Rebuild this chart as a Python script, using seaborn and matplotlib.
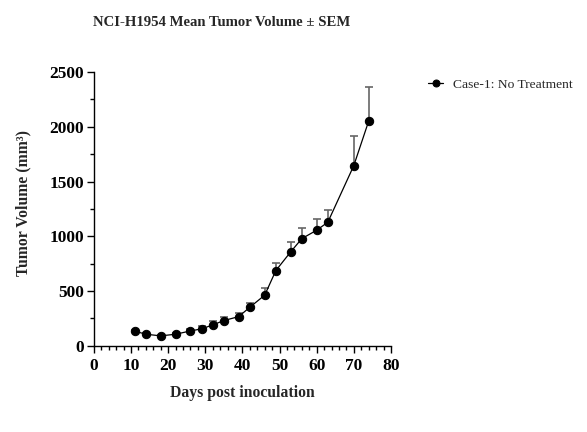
import matplotlib
matplotlib.use("Agg")
import matplotlib.pyplot as plt
import seaborn as sns
import pandas as pd
from matplotlib.ticker import MultipleLocator

days = [11, 14, 18, 22, 26, 29, 32, 35, 39, 42, 46, 49, 53, 56, 60, 63, 70, 74]
mean_volume = [132, 104, 89, 104, 134, 153, 189, 229, 265, 351, 461, 686, 857, 978, 1055, 1128, 1646, 2052]
sem = [8, 8, 8, 10, 15, 25, 35, 36, 37, 42, 67, 70, 91, 98, 101, 113, 272, 313]
series_name = "Case-1: No Treatment"

df = pd.DataFrame({"Day": days, "Volume": mean_volume, "SEM": sem, "Group": series_name})

sns.set_theme(style="ticks")
plt.rcParams["font.family"] = ["Liberation Serif", "DejaVu Serif"]

fig = plt.figure(figsize=(5.87, 4.32), dpi=100)
ax = fig.add_axes([0.160, 0.200, 0.506, 0.633])

ax.errorbar(df["Day"], df["Volume"], yerr=[[0] * len(df), df["SEM"]], fmt="none",
            ecolor="#666666", elinewidth=1.2, capsize=3, capthick=1.2, zorder=2)
sns.lineplot(data=df, x="Day", y="Volume", hue="Group", palette=["black"],
             marker="o", markersize=6, markeredgecolor="black", linewidth=0.9,
             ax=ax, zorder=3)

ax.set_xlim(0, 80)
ax.set_ylim(0, 2500)
ax.xaxis.set_major_locator(MultipleLocator(10))
ax.xaxis.set_minor_locator(MultipleLocator(2))
ax.yaxis.set_major_locator(MultipleLocator(500))
ax.yaxis.set_minor_locator(MultipleLocator(250))
ax.tick_params(axis="both", which="major", direction="out", length=5, width=1, colors="black", labelsize=12.5, pad=2)
ax.tick_params(axis="x", which="major", pad=4)
ax.tick_params(axis="both", which="minor", direction="out", length=3, width=1, colors="black")
for lab in ax.get_xticklabels() + ax.get_yticklabels():
    lab.set_fontweight("bold")
for s in ["top", "right"]:
    ax.spines[s].set_visible(False)
for s in ["left", "bottom"]:
    ax.spines[s].set_color("black")
    ax.spines[s].set_linewidth(1)

ax.set_xlabel("Days post inoculation", fontsize=11.3, fontweight="bold", labelpad=8)
ax.set_ylabel("Tumor Volume (mm³)", fontsize=11.3, fontweight="bold", labelpad=8)
ax.yaxis.set_label_coords(-0.21, 0.52)

fig.text(0.378, 0.949, "NCI-H1954 Mean Tumor Volume ± SEM", ha="center", va="center",
         fontsize=10.6, fontweight="bold")

leg = ax.legend(loc="center left", bbox_to_anchor=(1.107, 0.955), frameon=False,
                fontsize=9.7, handlelength=1.1, handletextpad=0.75, borderaxespad=0)
leg.set_title(None)
for h in leg.legend_handles:
    h.set_markersize(5)

fig.savefig("out.png", dpi=100)
